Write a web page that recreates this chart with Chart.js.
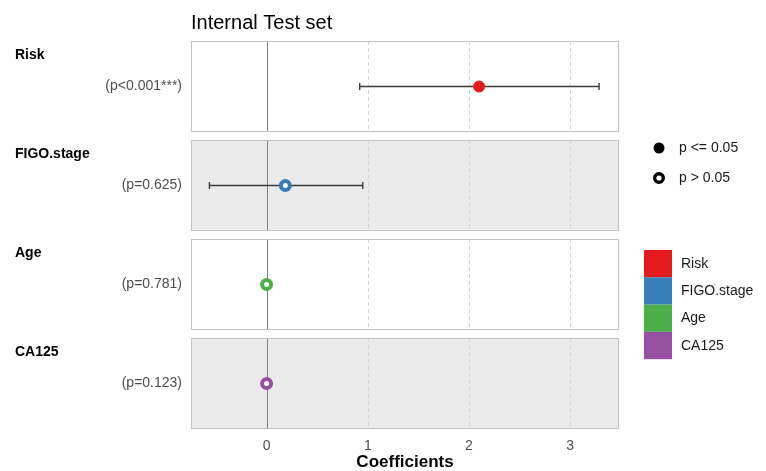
<!DOCTYPE html>
<html>
<head>
<meta charset="utf-8">
<script src="https://cdn.jsdelivr.net/npm/chart.js@4"></script>
<style>
  html,body{margin:0;padding:0;background:#fff;}
  #wrap{width:766px;height:471px;}
</style>
</head>
<body>
<div id="wrap"><canvas id="forest" width="766" height="471"></canvas></div>
<script>
// data
const names     = ["Risk", "FIGO.stage", "Age", "CA125"];
const pLabels   = ["(p<0.001***)", "(p=0.625)", "(p=0.781)", "(p=0.123)"];
const pValues   = [0.001, 0.625, 0.781, 0.123];
const estimates = [2.10, 0.185, 0.0, 0.0];
const lower     = [0.92, -0.565, null, null];
const upper     = [3.285, 0.95, null, null];
const colors    = ["#E41A1C", "#377EB8", "#4DAF4A", "#984EA3"];
const xTicks    = [0, 1, 2, 3];

const FONT = "'Liberation Sans', Arial, sans-serif";
const HALF = 45.5/99;   // half panel height in y units (gap between facets)

// error bars (drawn under the points)
const barSets = names.map((n,i)=>({
  type:"line",
  data: lower[i]==null ? [] : [{x:lower[i],y:i},{x:upper[i],y:i}],
  borderColor:"#3a3a3a", borderWidth:1.4,
  pointStyle:"line", rotation:90, pointRadius:3.5,
  pointBorderColor:"#3a3a3a", pointBorderWidth:1.4,
  order:2
}));

const pointSets = names.map((n,i)=>{
  const sig = pValues[i] <= 0.05;
  return {
    type:"scatter",
    label:n,
    data:[{x:estimates[i],y:i}],
    pointRadius: sig ? 5.5 : 4.5,
    pointBorderWidth: sig ? 1 : 4,
    pointBorderColor: colors[i],
    pointBackgroundColor: sig ? colors[i] : "#ffffff",
    order:1
  };
});

/***********************
 panels, title, legends
************************/
const panels = {
  id:"panels",
  beforeDatasetsDraw(chart){
    const {ctx, chartArea:a, scales:{x,y}} = chart;
    names.forEach((n,i)=>{
      const top = Math.round(y.getPixelForValue(i-HALF));
      const bot = Math.round(y.getPixelForValue(i+HALF));
      ctx.save();
      ctx.fillStyle = i%2 ? "#ebebeb" : "#ffffff";
      ctx.fillRect(a.left, top, a.right-a.left, bot-top);
      // dashed grid
      ctx.strokeStyle="#d4d4d4"; ctx.lineWidth=1; ctx.setLineDash([4,3]);
      xTicks.filter(v=>v!==0).forEach(v=>{
        const px=Math.round(x.getPixelForValue(v))+0.5;
        ctx.beginPath(); ctx.moveTo(px,top); ctx.lineTo(px,bot); ctx.stroke();
      });
      ctx.setLineDash([]);
      // zero line
      const z=Math.round(x.getPixelForValue(0))+0.5;
      ctx.strokeStyle="#808080";
      ctx.beginPath(); ctx.moveTo(z,top); ctx.lineTo(z,bot); ctx.stroke();
      // border
      ctx.strokeStyle="#c2c2c2";
      ctx.strokeRect(a.left+0.5, top+0.5, a.right-a.left-1, bot-top-1);
      // facet label
      ctx.fillStyle="#000"; ctx.font="bold 14px "+FONT;
      ctx.textBaseline="middle"; ctx.textAlign="left";
      ctx.fillText(n, 15, top+14);
      ctx.restore();
    });
  },
  afterDraw(chart){
    const {ctx, chartArea:a} = chart;
    ctx.save();
    // title
    ctx.fillStyle="#000"; ctx.font="20px "+FONT;
    ctx.textAlign="left"; ctx.textBaseline="alphabetic";
    ctx.fillText("Internal Test set", a.left, 29);
    // shape legend
    ctx.font="14px "+FONT; ctx.textBaseline="middle";
    ctx.beginPath(); ctx.arc(659,148,5.5,0,Math.PI*2); ctx.fillStyle="#000"; ctx.fill();
    ctx.beginPath(); ctx.arc(659,178,4.3,0,Math.PI*2); ctx.lineWidth=3.4; ctx.strokeStyle="#000"; ctx.stroke();
    ctx.fillStyle="#1a1a1a";
    ctx.fillText("p <= 0.05", 679, 148);
    ctx.fillText("p > 0.05", 679, 178);
    // colour legend
    names.forEach((n,i)=>{
      const y0 = 250 + i*27.3;
      ctx.fillStyle=colors[i];
      ctx.fillRect(644, y0, 28, 27.3);
      ctx.fillStyle="#1a1a1a";
      ctx.fillText(n, 681, y0+14);
    });
    ctx.restore();
  }
};

new Chart(document.getElementById("forest"),{
  data:{datasets:[...pointSets, ...barSets]},
  options:{
    responsive:false,
    animation:false,
    events:[],
    layout:{padding:{top:41,right:147,left:0,bottom:0}},
    plugins:{legend:{display:false},tooltip:{enabled:false},title:{display:false}},
    scales:{
      x:{
        type:"linear", min:-0.747, max:3.482,
        grid:{display:false, drawTicks:false}, border:{display:false},
        afterBuildTicks:s=>{ s.ticks = xTicks.map(v=>({value:v})); },
        afterFit:s=>{ s.height = 42; },
        ticks:{color:"#4d4d4d", font:{family:FONT,size:14}, padding:9},
        title:{display:true, text:"Coefficients", color:"#000",
               font:{family:FONT,size:17,weight:"bold",lineHeight:1}, padding:{top:0,bottom:0}}
      },
      y:{
        type:"linear", reverse:true, min:-HALF, max:names.length-1+HALF,
        grid:{display:false, drawTicks:false}, border:{display:false},
        afterBuildTicks:s=>{ s.ticks = names.map((n,i)=>({value:i})); },
        afterFit:s=>{ s.width = 191; },
        ticks:{color:"#4d4d4d", font:{family:FONT,size:14}, padding:9,
               callback:v=>pLabels[v]}
      }
    }
  },
  plugins:[panels]
});
</script>
</body>
</html>
